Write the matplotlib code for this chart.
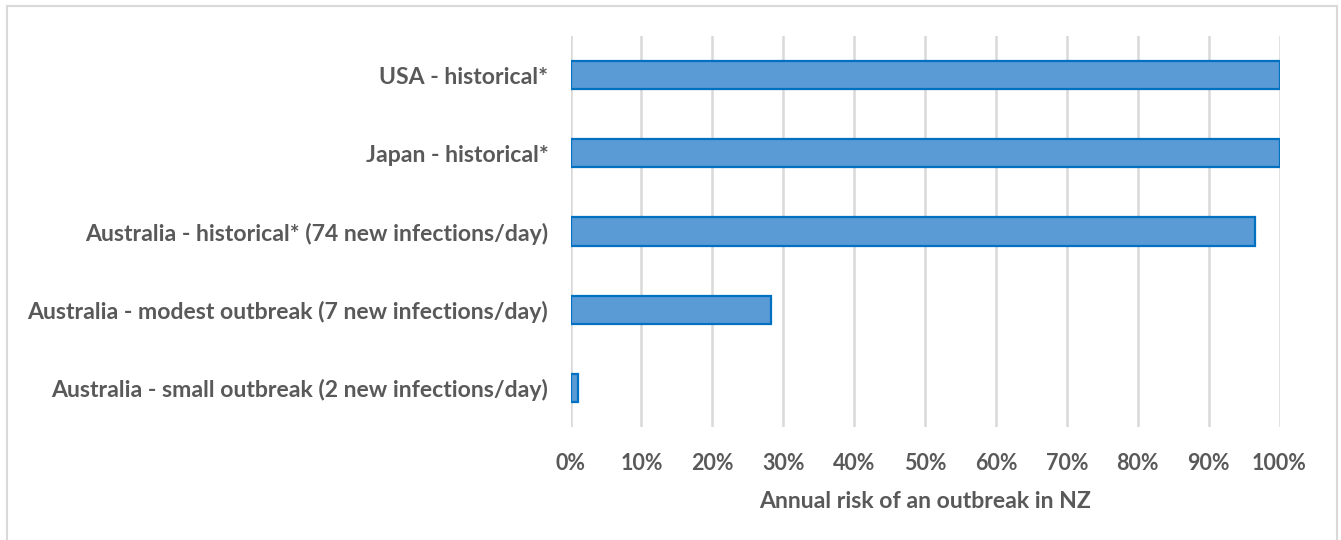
import numpy as np
import matplotlib
matplotlib.use('Agg')
import matplotlib.pyplot as plt
from matplotlib.lines import Line2D
from matplotlib.ticker import PercentFormatter, MultipleLocator

# data (top to bottom as shown)
categories = ['USA - historical*',
              'Japan - historical*',
              'Australia - historical* (74 new infections/day)',
              'Australia - modest outbreak (7 new infections/day)',
              'Australia - small outbreak (2 new infections/day)']
risk = [1.00, 1.00, 0.966, 0.283, 0.011]

plt.rcParams['font.family'] = ['Lato', 'DejaVu Sans']
plt.rcParams['font.weight'] = 'bold'
txt = '#595959'

W, H = 1341, 540
fig = plt.figure(figsize=(W/100, H/100), dpi=100)
ax = fig.add_axes([570.5/W, 113/H, 709/W, 391/H])

y = np.arange(len(categories))
ax.barh(y, risk, height=0.36, color='#5B9BD5', edgecolor='#0070C0', linewidth=1.6, zorder=3)

ax.set_xlim(0, 1)
ax.set_ylim(len(categories) - 0.5, -0.5)
ax.xaxis.set_major_locator(MultipleLocator(0.1))
ax.xaxis.set_major_formatter(PercentFormatter(1.0, decimals=0))
ax.grid(axis='x', color='#D9D9D9', linewidth=1.8, zorder=0)
ax.set_axisbelow(True)
for s in ax.spines.values():
    s.set_visible(False)

ax.set_yticks(y)
ax.set_yticklabels(categories, fontsize=16.6, color=txt, fontweight='bold')
ax.tick_params(axis='y', length=0, pad=16)
ax.tick_params(axis='x', length=0, pad=19, labelsize=15.5, labelcolor=txt)
for lab in ax.get_xticklabels():
    lab.set_fontweight('bold')
ax.set_xlabel('Annual risk of an outbreak in NZ', fontsize=16.6, color=txt,
              fontweight='bold', labelpad=12)

# outer chart frame (open at the bottom)
bc = '#D9D9D9'
l, r, t = 7/W, 1337/W, 1 - 6/H
fig.add_artist(Line2D([l, l], [0, t], color=bc, lw=1.5, transform=fig.transFigure))
fig.add_artist(Line2D([r, r], [0, t], color=bc, lw=1.5, transform=fig.transFigure))
fig.add_artist(Line2D([l, r], [t, t], color=bc, lw=1.5, transform=fig.transFigure))

fig.savefig('out.png', dpi=100)
